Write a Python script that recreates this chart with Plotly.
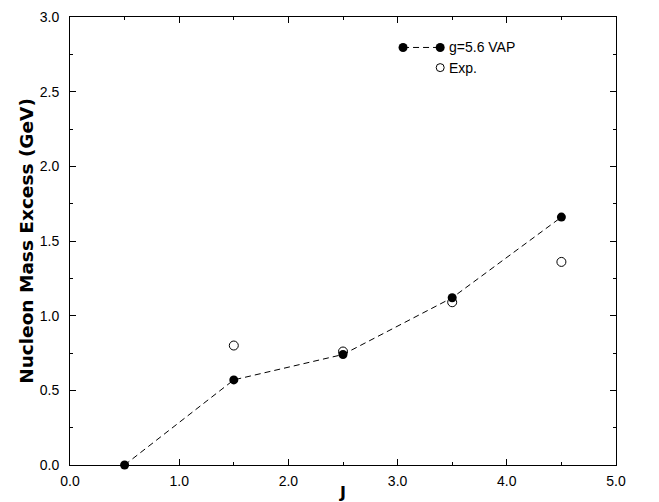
import plotly.graph_objects as go

j_vap = [0.5, 1.5, 2.5, 3.5, 4.5]
m_vap = [0.0, 0.57, 0.74, 1.12, 1.66]
j_exp = [1.5, 2.5, 3.5, 4.5]
m_exp = [0.80, 0.76, 1.09, 1.36]

x_ticks = [0.0, 1.0, 2.0, 3.0, 4.0, 5.0]
x_labels = ["0.0", "1.0", "2.0", "3.0", "4.0", "5.0"]
y_ticks = [0.0, 0.5, 1.0, 1.5, 2.0, 2.5, 3.0]
y_labels = ["0.0", "0.5", "1.0", "1.5", "2.0", "2.5", "3.0"]

legend_names = ["g=5.6 VAP", "Exp."]

LBL = "Liberation Sans, Arial, sans-serif"
TTL = "DejaVu Sans, sans-serif"

filled = dict(symbol="circle", size=9, color="black")
opened = dict(symbol="circle-open", size=9, color="black", line=dict(width=1, color="black"))
dash = dict(color="black", width=1, dash="6px,4px")

fig = go.Figure()
fig.add_trace(go.Scatter(
    x=j_vap, y=m_vap, mode="lines+markers", name=legend_names[0],
    line=dash, marker=filled, cliponaxis=False, showlegend=False,
))
fig.add_trace(go.Scatter(
    x=j_exp, y=m_exp, mode="markers", name=legend_names[1],
    marker=opened, cliponaxis=False, showlegend=False,
))

# hand-drawn legend on an invisible overlay axis (0..1 in both directions)
leg_x1, leg_x2, leg_tx = 0.610, 0.678, 0.690
leg_y1, leg_y2 = 0.932, 0.887
fig.add_trace(go.Scatter(
    x=[leg_x1, leg_x2], y=[leg_y1, leg_y1], mode="lines+markers",
    line=dash, marker=filled, xaxis="x2", yaxis="y2", showlegend=False,
    hoverinfo="skip", cliponaxis=False,
))
fig.add_trace(go.Scatter(
    x=[leg_x2], y=[leg_y2], mode="markers",
    marker=dict(symbol="circle-open", size=8, color="black", line=dict(width=1, color="black")),
    xaxis="x2", yaxis="y2", showlegend=False, hoverinfo="skip", cliponaxis=False,
))
for name, yy in zip(legend_names, [leg_y1, leg_y2]):
    fig.add_annotation(x=leg_tx, y=yy, xref="x2", yref="y2", text=name,
                       showarrow=False, xanchor="left", yanchor="middle",
                       font=dict(family=LBL, size=14, color="black"))

font = dict(family=LBL, size=14, color="black")
axis_common = dict(
    showgrid=False, zeroline=False, showline=True, linecolor="black", linewidth=1,
    mirror="ticks", ticks="inside", ticklen=6, tickcolor="black", tickwidth=1,
    tickfont=font, automargin=False, ticklabeloverflow="allow",
)
fig.update_layout(
    width=651, height=494,
    margin=dict(l=62, r=43, t=9, b=37),
    paper_bgcolor="white", plot_bgcolor="white",
    font=font,
    showlegend=False,
    xaxis=dict(range=[0, 5], tickvals=x_ticks, ticktext=x_labels,
               minor=dict(ticks="inside", ticklen=3, dtick=0.5, tickcolor="black"),
               ticklabelstandoff=3,
               title=dict(text="<b>J</b>", font=dict(family=TTL, size=16, color="black"), standoff=0),
               **axis_common),
    yaxis=dict(range=[0, 3], tickvals=y_ticks, ticktext=y_labels,
               minor=dict(ticks="inside", ticklen=3, dtick=0.25, tickcolor="black"),
               ticklabelstandoff=7,
               title=dict(text="<b>Nucleon Mass Excess (GeV)</b>", font=dict(family=TTL, size=18.5, color="black"), standoff=1),
               **axis_common),
    xaxis2=dict(range=[0, 1], overlaying="x", visible=False, fixedrange=True),
    yaxis2=dict(range=[0, 1], overlaying="y", visible=False, fixedrange=True),
)
fig.write_html("out.html")
